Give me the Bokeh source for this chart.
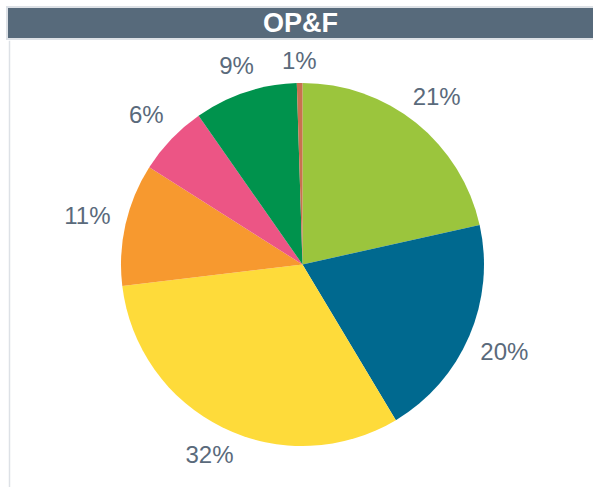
import math
from bokeh.plotting import figure
from bokeh.models import Range1d, Div, ColumnDataSource, Spacer
from bokeh.layouts import column, row
from bokeh.embed import file_html
from bokeh.resources import INLINE
from bokeh.core.properties import value

# ---- data (clockwise from 12 o'clock) ----
labels = ["21%", "20%", "32%", "11%", "6%", "9%", "1%"]
shares = [21.5, 19.9, 31.7, 10.9, 6.3, 9.2, 0.5]
colors = ["#9bc53d", "#00698f", "#fedb3a", "#f7992f", "#ec5585", "#00934d", "#c8714f"]
title_text = "OP&F"

TITLE_W = 587
TITLE_H = 34
W = 585
H = 447
RADIUS = 181.5

total = sum(shares)
starts, ends, lx, ly = [], [], [], []
cum = 0.0
for s in shares:
    a0 = math.pi / 2 - 2 * math.pi * cum / total
    cum += s
    a1 = math.pi / 2 - 2 * math.pi * cum / total
    starts.append(a0)
    ends.append(a1)
    mid = (a0 + a1) / 2
    r = 204 + 17 * abs(math.cos(mid))
    lx.append(r * math.cos(mid))
    ly.append(r * math.sin(mid))

src = ColumnDataSource(dict(start=starts, end=ends, color=colors,
                            lx=lx, ly=ly, label=labels))

title = Div(text=title_text, render_as_text=True, width=TITLE_W, height=TITLE_H,
            styles={"background-color": "#576a7b", "color": "white",
                    "font-family": "Liberation Sans, Arial, sans-serif",
                    "font-weight": "bold", "font-size": "27px",
                    "text-align": "center", "line-height": "30px",
                    "border": "2px solid #dde1e6", "border-right": "0",
                    "box-sizing": "border-box",
                    "width": f"{TITLE_W}px", "height": f"{TITLE_H}px",
                    "margin": "0", "padding": "0", "overflow": "hidden"})

p = figure(width=W, height=H, output_backend="svg", toolbar_location=None,
           x_range=Range1d(-292, 291), y_range=Range1d(-223, 224),
           min_border_left=2, min_border_right=0, min_border_top=0,
           min_border_bottom=0)
p.border_fill_color = "#dde1e6"
p.background_fill_color = "white"
p.outline_line_color = None
p.axis.visible = False
p.grid.visible = False

p.wedge(x=0, y=0, radius=RADIUS, start_angle="start", end_angle="end",
        direction="clock", fill_color="color", line_color=None, source=src)
p.text(x="lx", y="ly", text="label", source=src,
       text_font=value("Liberation Sans"), text_font_size="24px",
       text_color="#5a6a7b", text_align="center", text_baseline="middle")

layout = row(Spacer(width=6, height=487),
             column(Spacer(width=TITLE_W, height=6), title,
                    row(Spacer(width=2, height=H), p, spacing=0),
                    spacing=0),
             spacing=0)
open("out.html", "w").write(file_html(layout, INLINE))
